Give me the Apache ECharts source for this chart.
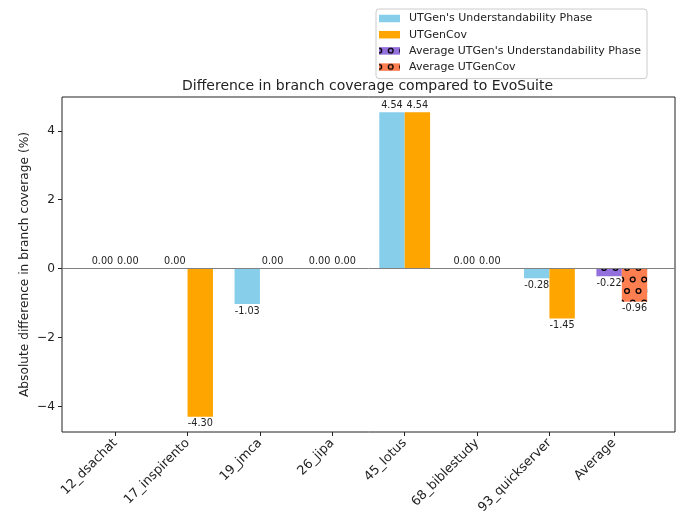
<!DOCTYPE html>
<html>
<head>
<meta charset="utf-8">
<script src="https://cdn.jsdelivr.net/npm/echarts@6/dist/echarts.min.js"></script>
<style>
  html, body { margin: 0; padding: 0; background: #fff; }
  #chart { width: 678px; height: 514px; }
</style>
</head>
<body>
<div id="chart"></div>
<script>
// data
var categories = ['12_dsachat', '17_inspirento', '19_jmca', '26_jipa', '45_lotus', '68_biblestudy', '93_quickserver', 'Average'];
var utgenPhase = [0.00, 0.00, -1.03, 0.00, 4.54, 0.00, -0.28];
var utgenCov = [0.00, -4.30, 0.00, 0.00, 4.54, 0.00, -1.45];
var avgUtgenPhase = [-0.22];
var avgUtgenCov = [-0.96];
var yTicks = [-4, -2, 0, 2, 4];

var AVG_X = 7;        // average group sits after the projects
var AVG_TICK = 6.89;  // its tick label is a bit left of the bars
var tickPos = categories.map(function(c, i) { return i === AVG_X ? AVG_TICK : i; });

var FONT = 'DejaVu Sans';
var TXT = '#222';

// matplotlib style 'o' hatch
function hatch(bg) {
    var c = document.createElement('canvas');
    c.width = 23; c.height = 23;
    var ctx = c.getContext('2d');
    ctx.fillStyle = bg;
    ctx.fillRect(0, 0, 23, 23);
    ctx.strokeStyle = '#000';
    ctx.lineWidth = 1.3;
    var pts = [[0.2, 3.5], [11.7, 3.5], [6, 15], [17.5, 15]];
    pts.forEach(function(p) {
        for (var dx = -23; dx <= 23; dx += 23) {
            for (var dy = -23; dy <= 23; dy += 23) {
                ctx.beginPath();
                ctx.arc(p[0] + dx, p[1] + dy, 2.4, 0, Math.PI * 2);
                ctx.stroke();
            }
        }
    });
    return { image: c, repeat: 'repeat' };
}

// bar items with the value label above (>= 0) or below (< 0)
function toItems(arr, x0) {
    return arr.map(function(v, i) {
        return {
            value: [x0 === undefined ? i : x0, v],
            label: { position: v < 0 ? 'bottom' : 'top' }
        };
    });
}

var barLabel = {
    show: true,
    distance: 2,
    fontFamily: FONT,
    fontSize: 9.7,
    color: TXT,
    formatter: function(p) { return p.value[1].toFixed(2); }
};

var myChart = echarts.init(document.getElementById('chart'), null, { renderer: 'canvas' });
var option = {
    animation: false,
    backgroundColor: '#fff',
    title: {
        text: 'Difference in branch coverage compared to EvoSuite',
        left: 182,
        top: 79,
        padding: 0,
        textStyle: { fontFamily: FONT, fontSize: 14, fontWeight: 'normal', color: TXT }
    },
    legend: {
        orient: 'vertical',
        left: 376,
        top: 9,
        padding: [4, 6, 6, 3],
        itemWidth: 21,
        itemHeight: 7.5,
        itemGap: 5.2,
        icon: 'rect',
        borderColor: '#cccccc',
        borderWidth: 1,
        borderRadius: 3,
        backgroundColor: 'rgba(255,255,255,0.8)',
        textStyle: { fontFamily: FONT, fontSize: 11, lineHeight: 11, color: TXT, padding: [0, 0, 0, 4] },
        data: ["UTGen's Understandability Phase", 'UTGenCov', "Average UTGen's Understandability Phase", 'Average UTGenCov']
    },
    grid: {
        left: 62, right: 3, top: 97, bottom: 82,
        show: true,
        borderColor: '#222',
        borderWidth: 1,
        outerBoundsMode: 'none'
    },
    xAxis: {
        type: 'value',
        min: -0.735,
        max: 7.735,
        splitLine: { show: false },
        axisLine: { show: false, onZero: false },
        axisTick: {
            show: true, length: 4, customValues: tickPos,
            lineStyle: { color: '#222', width: 1 }
        },
        axisLabel: {
            customValues: tickPos,
            rotate: 45,
            margin: 9,
            fontFamily: FONT,
            fontSize: 12.8,
            color: TXT,
            formatter: function(v) {
                for (var i = 0; i < tickPos.length; i++) {
                    if (Math.abs(tickPos[i] - v) < 1e-6) return categories[i];
                }
                return '';
            }
        }
    },
    yAxis: {
        type: 'value',
        min: -4.742,
        max: 4.982,
        name: 'Absolute difference in branch coverage (%)',
        nameLocation: 'middle',
        nameGap: 31,
        nameMoveOverlap: false,
        nameTextStyle: { fontFamily: FONT, fontSize: 12.2, color: TXT },
        splitLine: { show: false },
        axisLine: { show: false, onZero: false },
        axisTick: {
            show: true, length: 4, customValues: yTicks,
            lineStyle: { color: '#222', width: 1 }
        },
        axisLabel: {
            customValues: yTicks,
            margin: 7,
            fontFamily: FONT,
            fontSize: 12.2,
            color: TXT,
            formatter: function(v) { return String(v).replace('-', '\u2212'); }
        }
    },
    series: [{
        name: "UTGen's Understandability Phase",
        type: 'bar',
        stack: 'phase',
        barWidth: 25.4,
        barGap: '0%',
        itemStyle: { color: '#87CEEB' },
        label: barLabel,
        data: toItems(utgenPhase),
        markLine: {
            silent: true,
            symbol: 'none',
            label: { show: false },
            lineStyle: { color: '#808080', width: 1, type: 'solid' },
            data: [{ yAxis: 0 }]
        }
    }, {
        name: 'UTGenCov',
        type: 'bar',
        stack: 'cov',
        barWidth: 25.4,
        barGap: '0%',
        itemStyle: { color: '#FFA500' },
        label: barLabel,
        data: toItems(utgenCov)
    }, {
        name: "Average UTGen's Understandability Phase",
        type: 'bar',
        stack: 'phase',
        barWidth: 25.4,
        barGap: '0%',
        itemStyle: { color: hatch('#9370DB') },
        label: barLabel,
        data: toItems(avgUtgenPhase, AVG_X)
    }, {
        name: 'Average UTGenCov',
        type: 'bar',
        stack: 'cov',
        barWidth: 25.4,
        barGap: '0%',
        itemStyle: { color: hatch('#FF7F50') },
        label: barLabel,
        data: toItems(avgUtgenCov, AVG_X)
    }]
};
myChart.setOption(option);
</script>
</body>
</html>
